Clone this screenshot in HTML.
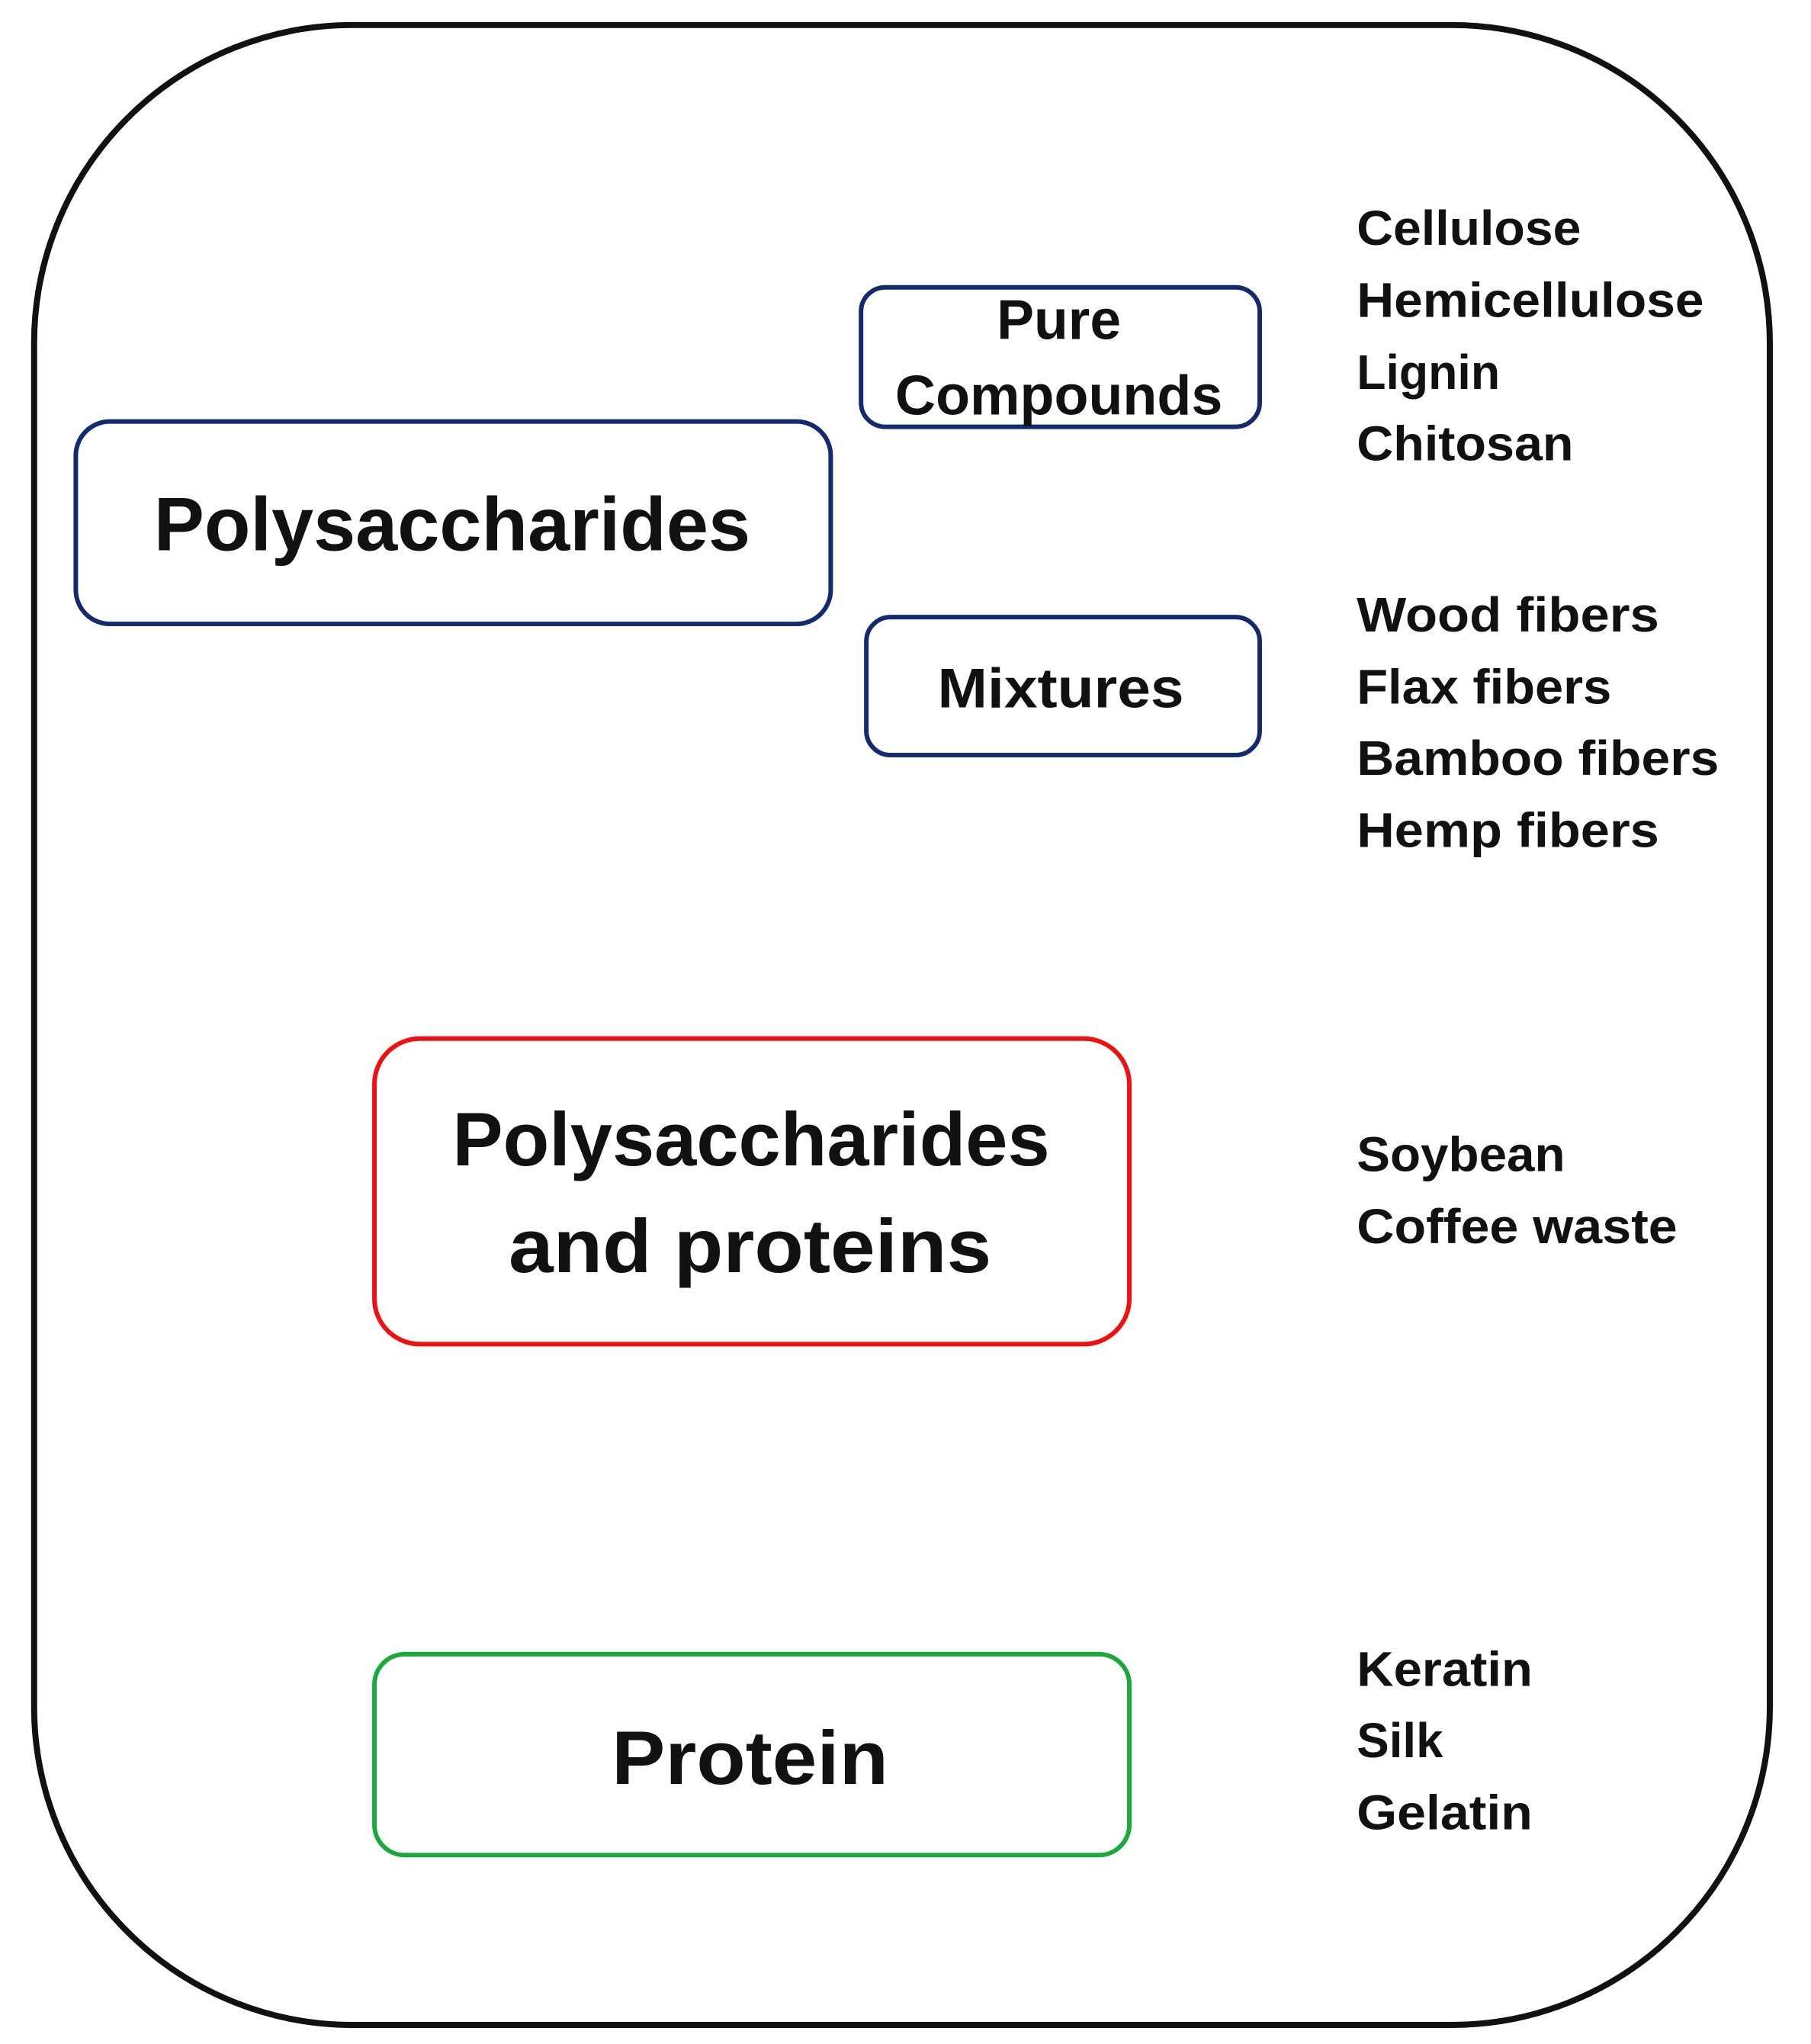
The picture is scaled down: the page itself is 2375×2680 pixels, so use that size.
<!DOCTYPE html>
<html><head><meta charset="utf-8"><style>html,body{margin:0;padding:0;background:#fff}svg{display:block}</style></head>
<body>
<svg width="2375" height="2680" viewBox="0 0 2375 2680" xmlns="http://www.w3.org/2000/svg" font-family="Liberation Sans, sans-serif" font-weight="bold" fill="#111">
<g transform="scale(0.994)">
<rect x="45" y="33" width="2290" height="2638" rx="420" ry="420" fill="none" stroke="#111" stroke-width="8"/>
<rect x="100" y="556" width="996" height="267" rx="45" fill="none" stroke="#142a6e" stroke-width="6"/>
<rect x="1136" y="379" width="526" height="184" rx="32" fill="none" stroke="#142a6e" stroke-width="6"/>
<rect x="1143" y="814" width="519" height="182" rx="32" fill="none" stroke="#142a6e" stroke-width="6"/>
<rect x="494" y="1370" width="996" height="403" rx="60" fill="none" stroke="#f01010" stroke-width="6"/>
<rect x="494" y="2182" width="996" height="265" rx="40" fill="none" stroke="#1aaa3c" stroke-width="6"/>
<g font-size="100">
<text x="203" y="726" textLength="787" lengthAdjust="spacingAndGlyphs">Polysaccharides</text>
<text x="597" y="1537" textLength="788" lengthAdjust="spacingAndGlyphs">Polysaccharides</text>
<text x="671" y="1678" textLength="637" lengthAdjust="spacingAndGlyphs">and proteins</text>
<text x="807" y="2353" textLength="365" lengthAdjust="spacingAndGlyphs">Protein</text>
</g>
<g font-size="74">
<text x="1315" y="447" textLength="164" lengthAdjust="spacingAndGlyphs">Pure</text>
<text x="1181" y="547" textLength="432" lengthAdjust="spacingAndGlyphs">Compounds</text>
<text x="1237" y="933" textLength="325" lengthAdjust="spacingAndGlyphs">Mixtures</text>
</g>
<g font-size="64">
<text x="1790" y="323" textLength="296" lengthAdjust="spacingAndGlyphs">Cellulose</text>
<text x="1790" y="418" textLength="458" lengthAdjust="spacingAndGlyphs">Hemicellulose</text>
<text x="1790" y="513" textLength="189" lengthAdjust="spacingAndGlyphs">Lignin</text>
<text x="1790" y="607" textLength="286" lengthAdjust="spacingAndGlyphs">Chitosan</text>
<text x="1790" y="833" textLength="399" lengthAdjust="spacingAndGlyphs">Wood fibers</text>
<text x="1790" y="928" textLength="336" lengthAdjust="spacingAndGlyphs">Flax fibers</text>
<text x="1790" y="1022" textLength="478" lengthAdjust="spacingAndGlyphs">Bamboo fibers</text>
<text x="1790" y="1117" textLength="399" lengthAdjust="spacingAndGlyphs">Hemp fibers</text>
<text x="1790" y="1545" textLength="275" lengthAdjust="spacingAndGlyphs">Soybean</text>
<text x="1790" y="1640" textLength="423" lengthAdjust="spacingAndGlyphs">Coffee waste</text>
<text x="1790" y="2224" textLength="232" lengthAdjust="spacingAndGlyphs">Keratin</text>
<text x="1790" y="2318" textLength="114" lengthAdjust="spacingAndGlyphs">Silk</text>
<text x="1790" y="2413" textLength="232" lengthAdjust="spacingAndGlyphs">Gelatin</text>
</g>
</g>
</svg>
</body></html>
